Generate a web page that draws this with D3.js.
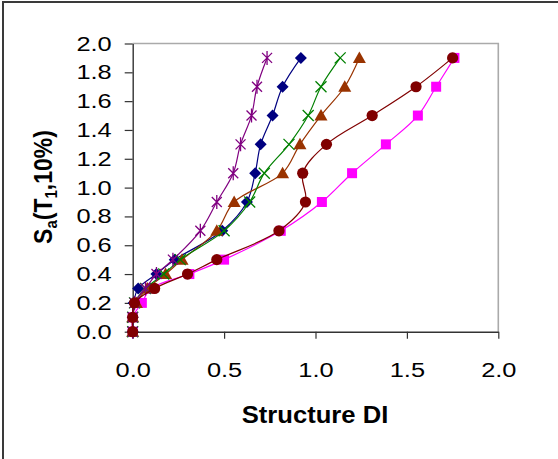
<!DOCTYPE html>
<html><head><meta charset="utf-8">
<script src="https://cdn.jsdelivr.net/npm/d3@7"></script>
<style>
html,body{margin:0;padding:0;background:#fff;}
svg{display:block;}
text{font-family:"Liberation Sans",Arial,sans-serif;fill:#000;}
</style></head>
<body>
<svg id="chart" width="558" height="459"></svg>
<script>
// Intensity levels (y values shared by every series)
const levels = [0, 0.1, 0.2, 0.3, 0.4, 0.5, 0.7, 0.9, 1.1, 1.3, 1.5, 1.7, 1.9];
// Structure DI per series (x values)
const squareDI   = [0, 0, 0.05, 0.10, 0.31, 0.50, 0.81, 1.035, 1.20, 1.385, 1.56, 1.66, 1.76];
const diamondDI  = [0, 0, 0.005, 0.03, 0.13, 0.23, 0.49, 0.625, 0.67, 0.70, 0.765, 0.82, 0.92];
const triangleDI = [0, 0, 0.02, 0.08, 0.18, 0.27, 0.46, 0.555, 0.82, 0.915, 1.03, 1.16, 1.24];
const crossDI    = [0, 0, 0.01, 0.07, 0.17, 0.26, 0.50, 0.64, 0.72, 0.855, 0.96, 1.03, 1.135];
const starDI     = [0, 0, 0.01, 0.07, 0.13, 0.22, 0.37, 0.46, 0.55, 0.59, 0.65, 0.68, 0.735];
const circleDI   = [0, 0, 0.01, 0.12, 0.30, 0.46, 0.80, 0.945, 0.93, 1.06, 1.31, 1.55, 1.75];
// Tick labels
const xTicks = [0, 0.5, 1.0, 1.5, 2.0];
const yTicks = [0, 0.2, 0.4, 0.6, 0.8, 1.0, 1.2, 1.4, 1.6, 1.8, 2.0];

const series = [
  {x: squareDI,   color: "#FF00FF", marker: "square"},
  {x: diamondDI,  color: "#000080", marker: "diamond"},
  {x: triangleDI, color: "#993300", marker: "triangle"},
  {x: crossDI,    color: "#008000", marker: "cross"},
  {x: starDI,     color: "#800080", marker: "star"},
  {x: circleDI,   color: "#800000", marker: "circle"}
];

const svg = d3.select("#chart");
const L = 132.7, R = 498.3, T = 43.5, B = 331.7;
const x = d3.scaleLinear().domain([0, 2]).range([L, R]);
const y = d3.scaleLinear().domain([0, 2]).range([B, T]);

// outer frame
svg.append("rect").attr("x", 3).attr("y", 2).attr("width", 600).attr("height", 500)
  .attr("fill", "none").attr("stroke", "#3a3a3a").attr("stroke-width", 2);

// plot-area top/right border
svg.append("path").attr("d", `M${L},${T}H${R}V${B}`)
  .attr("fill", "none").attr("stroke", "#aaaaaa").attr("stroke-width", 1.6);

const fmt = d3.format(".1f");
const sx = 1.24;

const yAxis = svg.append("g").attr("transform", `translate(${L},0)`)
  .call(d3.axisLeft(y).tickValues(yTicks).tickFormat(fmt).tickSize(8).tickSizeOuter(0));
yAxis.selectAll("text").attr("font-size", "20.5px")
  .attr("x", -21 / sx).attr("transform", `scale(${sx},1)`);

const xAxis = svg.append("g").attr("transform", `translate(0,${B})`)
  .call(d3.axisBottom(x).tickValues(xTicks).tickFormat(fmt).tickSize(7).tickSizeOuter(0));
xAxis.selectAll("text").attr("font-size", "20.5px")
  .attr("y", 45).attr("dy", 0).attr("transform", `scale(${sx},1)`);

[yAxis, xAxis].forEach(a => {
  a.select(".domain").attr("stroke", "#333").attr("stroke-width", 1.4);
  a.selectAll(".tick line").attr("stroke", "#333").attr("stroke-width", 1.2);
});

// axis titles
svg.append("text").attr("transform", "translate(315,423) scale(1.09,1)")
  .attr("text-anchor", "middle").attr("font-weight", "bold").attr("font-size", "23.5px")
  .text("Structure DI");

const yt = svg.append("text").attr("transform", "translate(52,187) scale(1.09,1) rotate(-90)")
  .attr("text-anchor", "middle").attr("font-weight", "bold").attr("font-size", "23px");
yt.append("tspan").text("S");
yt.append("tspan").attr("font-size", "15px").attr("dy", 5).text("a");
yt.append("tspan").attr("dy", -5).text("(T");
yt.append("tspan").attr("font-size", "15px").attr("dy", 5).text("1");
yt.append("tspan").attr("dy", -5).text(",10%)");

// series
const line = d3.line().curve(d3.curveCatmullRom.alpha(0.5));
const markerPath = {
  square: "M-5,-5H5V5H-5Z",
  diamond: "M0,-6L6,0L0,6L-6,0Z",
  triangle: "M0,-6.5L6.5,5L-6.5,5Z",
  cross: "M-5.5,-5.5L5.5,5.5M5.5,-5.5L-5.5,5.5",
  star: "M-5,-5L5,5M5,-5L-5,5M0,-7V7",
  circle: null
};

series.forEach(s => {
  const pts = levels.map((lv, i) => [x(s.x[i]), y(lv)]);
  const g = svg.append("g");
  g.append("path").attr("d", line(pts)).attr("fill", "none")
    .attr("stroke", s.color).attr("stroke-width", 1.2);
  pts.forEach(p => {
    if (s.marker === "circle") {
      g.append("circle").attr("cx", p[0]).attr("cy", p[1]).attr("r", 5.6).attr("fill", s.color);
    } else if (s.marker === "cross" || s.marker === "star") {
      g.append("path").attr("transform", `translate(${p[0]},${p[1]})`)
        .attr("d", markerPath[s.marker]).attr("fill", "none")
        .attr("stroke", s.color).attr("stroke-width", 1.3);
    } else {
      g.append("path").attr("transform", `translate(${p[0]},${p[1]})`)
        .attr("d", markerPath[s.marker]).attr("fill", s.color);
    }
  });
});
</script>
</body></html>
